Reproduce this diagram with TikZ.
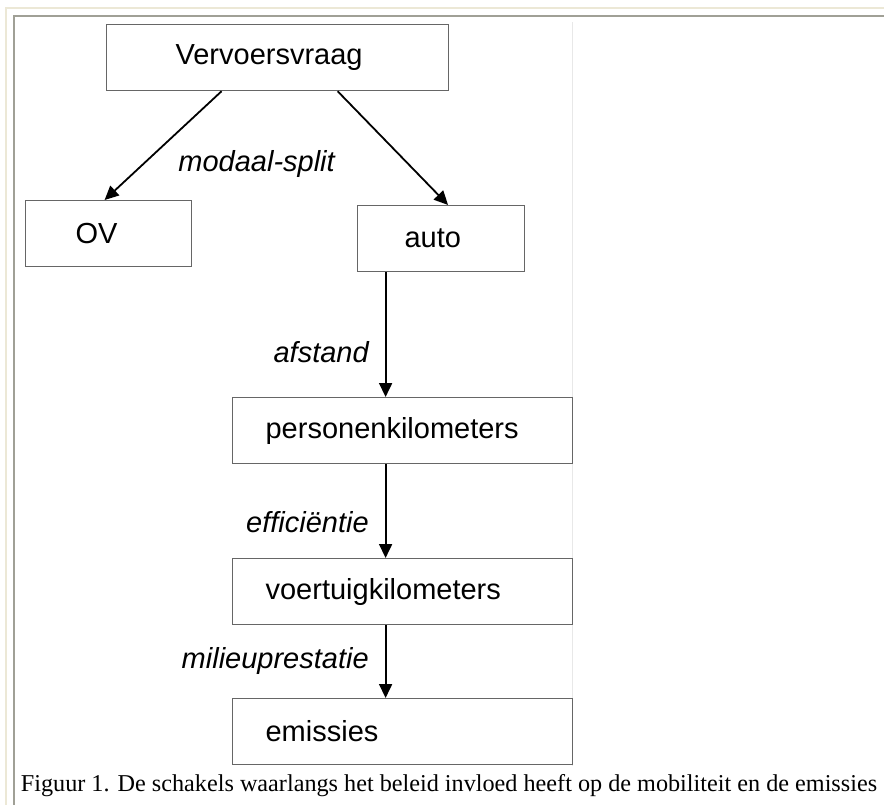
\documentclass[tikz,border=0pt]{standalone}
\usepackage{fontspec}
\setmainfont{Liberation Serif}
\newfontfamily\helv{Liberation Sans}
\usetikzlibrary{arrows.meta}

\begin{document}
\begin{tikzpicture}[x=1pt, y=-1pt,
    caixa/.style={draw=black!60, line width=1.2pt, anchor=north west, align=left,
      minimum height=66pt, inner ysep=0pt, font=\helv\fontsize{29}{34}\selectfont},
    rotulo/.style={font=\helv\itshape\fontsize{29}{34}\selectfont, inner sep=0pt},
    seta/.style={-{Triangle[length=14pt, width=13pt]}, line width=1.8pt}]
    % Cores da moldura
    \definecolor{moldura}{RGB}{236,232,214}
    \definecolor{borda}{RGB}{160,160,150}
    \definecolor{linhaclara}{RGB}{232,232,232}

    \useasboundingbox (0,0) rectangle (884,805);

    % Moldura da pagina
    \draw[moldura, line width=2.5pt] (6,805) -- (6,8) -- (884,8);
    \draw[borda, line width=1.5pt] (14,805) -- (14,16) -- (884,16);
    \draw[linhaclara, line width=1pt] (572,22) -- (572,766);

    % Topo e divisao modal
    \node[caixa, inner xsep=69pt, text width=204pt] (vraag) at (106,24) {Vervoersvraag};
    \node[caixa, inner xsep=50pt, text width=66pt] (ov) at (25,200) {OV};
    \node[caixa, inner xsep=47pt, text width=73pt] (auto) at (357,205) {auto};
    \node[rotulo] (split) at ([xshift=-21pt, yshift=-73pt]vraag.south) {modaal-split};

    \draw[seta] ([xshift=-56pt]vraag.south) -- ([xshift=-4pt]ov.north);
    \draw[seta] ([xshift=60pt]vraag.south) -- ([xshift=7pt]auto.north);

    % Cadeia de caixas abaixo
    \foreach \nome/\texto/\y in {pkm/personenkilometers/397, vkm/voertuigkilometers/558, emis/emissies/698} {
        \node[caixa, inner xsep=33pt, text width=274pt] (\nome) at (232,\y) {\texto};
    }

    % Setas com rotulo a esquerda
    \foreach \de/\para/\txt/\p in {auto/pkm/afstand/0.64, pkm/vkm/efficiëntie/0.62, vkm/emis/milieuprestatie/0.49} {
        \draw[seta] ([xshift=-17pt]\para.north |- \de.south) -- ([xshift=-17pt]\para.north)
            node[rotulo, pos=\p, left=16pt] {\txt};
    }

    % Legenda
    \node[font=\fontsize{24.2}{28}\selectfont, inner sep=0pt] (legenda) at (449,786)
        {Figuur 1. De schakels waarlangs het beleid invloed heeft op de mobiliteit en de emissies};
\end{tikzpicture}
\end{document}
